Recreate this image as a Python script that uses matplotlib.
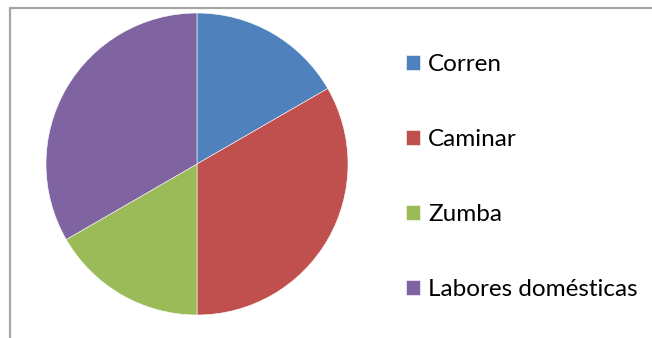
import matplotlib.pyplot as plt
from matplotlib.patches import Rectangle

labels = ['Corren', 'Caminar', 'Zumba', 'Labores domésticas']
values = [1, 2, 1, 2]
colors = ['#4F81BD', '#C0504D', '#9BBB59', '#8064A2']

plt.rcParams['font.family'] = ['Lato', 'DejaVu Sans']

W, H = 652, 338
fig = plt.figure(figsize=(W / 100, H / 100), dpi=100)

# outer chart frame, open to the right and bottom
fig.patches.append(Rectangle((10 / W, -0.1), 1.2, 1 - 8 / H + 0.1,
                             transform=fig.transFigure, fill=False,
                             edgecolor='#A6A6A6', linewidth=1.6))

cx, cy, r = 197, 164, 151
ax = fig.add_axes([(cx - r) / W, (H - cy - r) / H, 2 * r / W, 2 * r / H])
wedges, _ = ax.pie(values, colors=colors, startangle=90, counterclock=False,
                   radius=1, wedgeprops=dict(edgecolor='white', linewidth=0.4))
ax.set_xlim(-1, 1)
ax.set_ylim(-1, 1)
ax.set_aspect('equal')
ax.axis('off')

leg = fig.legend(wedges, labels, loc='upper left',
                 bbox_to_anchor=(394 / W, 1 - 42 / H), frameon=False,
                 fontsize=17.5, labelspacing=2.22, handlelength=0.58,
                 handleheight=0.58, handletextpad=0.33, borderpad=0)

fig.savefig('out.png', dpi=100)
